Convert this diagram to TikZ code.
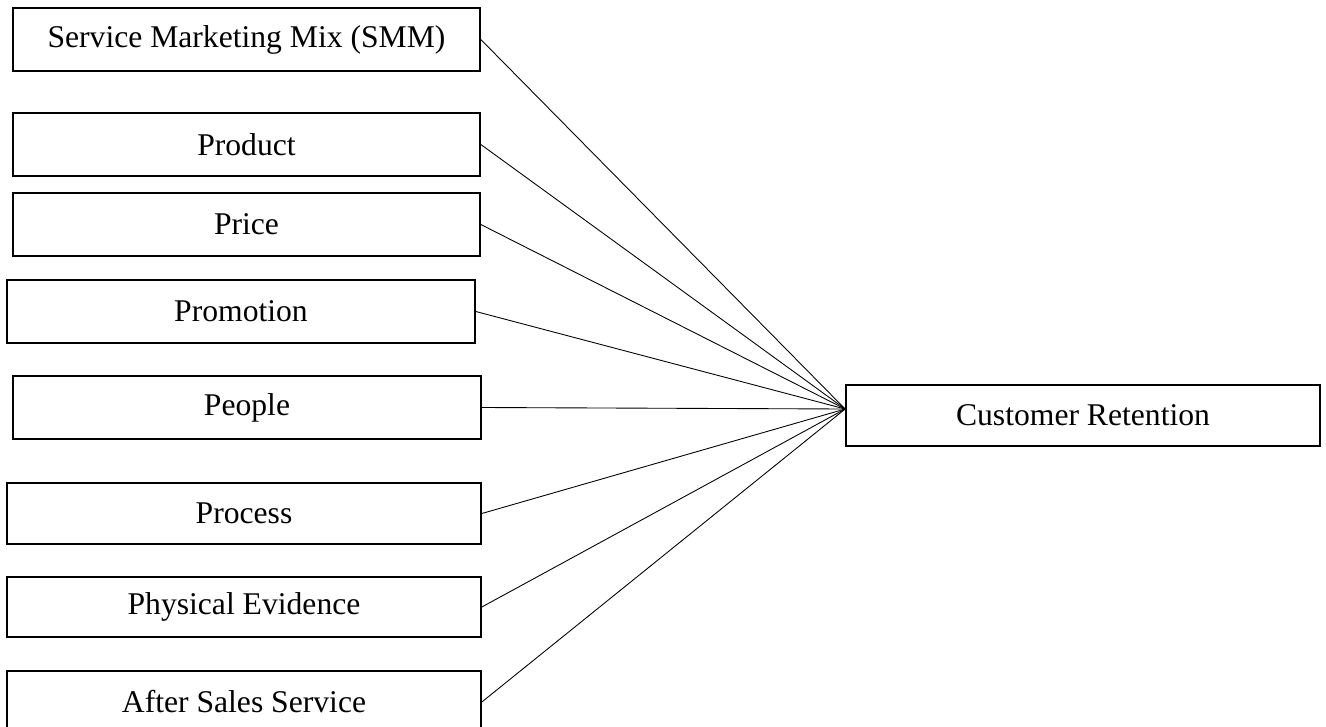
\documentclass[tikz,border=0pt]{standalone}
\usepackage{fontspec}
\setmainfont{Liberation Serif}
\usepackage{tikz}

\tikzset{
    factor/.style={draw=black,line width=1pt,minimum width=9.4cm,minimum height=1.24cm,inner sep=0pt,font=\fontsize{18}{22}\selectfont},
    outcome/.style={factor,minimum width=9.48cm,minimum height=1.22cm},
    link/.style={draw=black,line width=0.5pt}
}

\begin{document}
\begin{tikzpicture}[x=0.02cm,y=-0.02cm]
            \useasboundingbox (0,0) rectangle (1326,727);
            \clip (0,0) rectangle (1326,727);

            \node[factor,minimum width=9.34cm,minimum height=1.26cm] (smm) at (246.5,39.5) {Service Marketing Mix (SMM)};
            \node[factor,minimum width=9.34cm,minimum height=1.26cm] (product) at (246.5,144.5) {Product};
            \node[factor,minimum width=9.34cm,minimum height=1.26cm] (price) at (246.5,224.5) {Price};
            \node[factor,minimum width=9.36cm,minimum height=1.26cm] (promotion) at (241,311.5) {Promotion};
            \node[factor,minimum width=9.36cm,minimum height=1.26cm] (people) at (247,407.5) {People};
            \node[factor,minimum width=9.48cm,minimum height=1.22cm] (process) at (244,513.5) {Process};
            \node[factor,minimum width=9.48cm,minimum height=1.2cm] (physical) at (244,607) {Physical Evidence};
            \node[factor,minimum width=9.48cm,minimum height=1.24cm] (after) at (244,702) {After Sales Service};

            \node[outcome] (retention) at (1083,415.5) {Customer Retention};
            \coordinate (hub) at ([yshift=0.13cm]retention.west);

            \foreach \f in {smm,product,price,promotion,people,process,physical,after}
                \draw[link] (\f.east)--(hub);
        \end{tikzpicture}
\end{document}
